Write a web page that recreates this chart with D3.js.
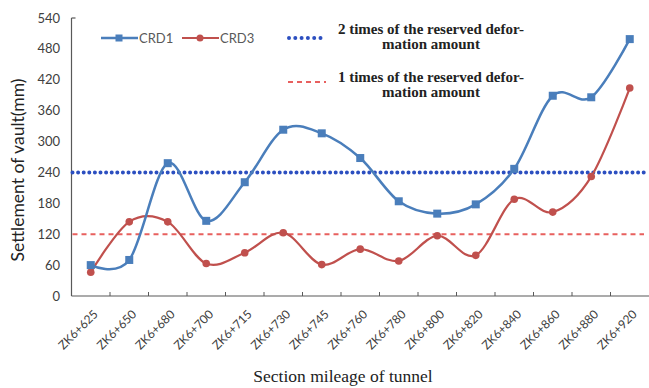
<!DOCTYPE html>
<html><head><meta charset="utf-8">
<script src="https://cdn.jsdelivr.net/npm/d3@7"></script>
<style>body{margin:0;background:#fff}svg{display:block}</style>
</head><body>
<svg id="c" width="649" height="388"></svg>
<script>
const categories = ["ZK6+625","ZK6+650","ZK6+680","ZK6+700","ZK6+715","ZK6+730","ZK6+745","ZK6+760","ZK6+780","ZK6+800","ZK6+820","ZK6+840","ZK6+860","ZK6+880","ZK6+920"];
const crd1 = [60,70,258,146,221,323,316,268,184,160,178,247,389,386,499];
const crd3 = [46,144,144,63,84,123,61,91,68,117,79,188,163,232,404];
const twoTimes = 240;
const oneTimes = 120;
const yTicks = [0,60,120,180,240,300,360,420,480,540];

const svg = d3.select("#c");
const L = 71.5, R = 649, T = 18, B = 296;
const x = d3.scaleBand().domain(categories).range([L, R]).padding(0);
const y = d3.scaleLinear().domain([0,540]).range([B, T]);
const cx = d => x(d) + x.bandwidth()/2;

const sans = "Lato, 'Open Sans', sans-serif";
const serif = "'Liberation Serif', 'DejaVu Serif', serif";

// axes
svg.append("line").attr("x1",L).attr("x2",L).attr("y1",T).attr("y2",B).attr("stroke","#595959").attr("stroke-width",1.2);
svg.append("line").attr("x1",L).attr("x2",R).attr("y1",B).attr("y2",B).attr("stroke","#595959").attr("stroke-width",1.2);
svg.append("line").attr("x1",L).attr("x2",L+4).attr("y1",y(540)).attr("y2",y(540)).attr("stroke","#595959").attr("stroke-width",1.2);

// x ticks (between categories, inward)
categories.slice(1).forEach(c => {
  svg.append("line").attr("x1",x(c)).attr("x2",x(c)).attr("y1",B).attr("y2",B-4).attr("stroke","#595959").attr("stroke-width",1);
});

// y tick labels
svg.selectAll(".yt").data(yTicks).enter().append("text")
  .attr("x", 60).attr("y", d => y(d)).attr("dy","0.35em")
  .attr("text-anchor","end").attr("font-family",sans).attr("font-size",13).attr("fill","#404040")
  .text(d => d);

// x tick labels
svg.selectAll(".xt").data(categories).enter().append("text")
  .attr("transform", d => `translate(${cx(d)+5},${B+16}) rotate(-45)`)
  .attr("text-anchor","end").attr("dy","0.35em")
  .attr("font-family",sans).attr("font-size",12).attr("fill","#404040")
  .text(d => d);

// reference lines
svg.append("line").attr("x1",L+1).attr("x2",R-5).attr("y1",y(twoTimes)).attr("y2",y(twoTimes))
  .attr("stroke","#2c4fc0").attr("stroke-width",4).attr("stroke-linecap","round").attr("stroke-dasharray","0,5.6");
svg.append("line").attr("x1",L+1).attr("x2",R-5).attr("y1",y(oneTimes)).attr("y2",y(oneTimes))
  .attr("stroke","#e8605e").attr("stroke-width",2).attr("stroke-dasharray","5,4");

const line = d3.line().x((d,i)=>cx(categories[i])).y(d=>y(d)).curve(d3.curveCardinal.tension(0));

// CRD3
svg.append("path").attr("d", line(crd3)).attr("fill","none").attr("stroke","#c0504d").attr("stroke-width",2.2);
svg.selectAll(".m3").data(crd3).enter().append("circle")
  .attr("cx",(d,i)=>cx(categories[i])).attr("cy",d=>y(d)).attr("r",3.8).attr("fill","#c0504d");
// CRD1
svg.append("path").attr("d", line(crd1)).attr("fill","none").attr("stroke","#4a7ebb").attr("stroke-width",2.5);
svg.selectAll(".m1").data(crd1).enter().append("rect")
  .attr("x",(d,i)=>cx(categories[i])-4).attr("y",d=>y(d)-4).attr("width",8).attr("height",8).attr("fill","#4a7ebb");

// legend
const lg = svg.append("g");
lg.append("line").attr("x1",101).attr("x2",138).attr("y1",38).attr("y2",38).attr("stroke","#4a7ebb").attr("stroke-width",2.5);
lg.append("rect").attr("x",115.5).attr("y",34.5).attr("width",7).attr("height",7).attr("fill","#4a7ebb");
lg.append("text").attr("x",139).attr("y",38).attr("dy","0.35em").attr("font-family",sans).attr("font-size",13).attr("fill","#595959").text("CRD1");
lg.append("line").attr("x1",182).attr("x2",219).attr("y1",38).attr("y2",38).attr("stroke","#c0504d").attr("stroke-width",2.2);
lg.append("circle").attr("cx",200).attr("cy",38).attr("r",3.5).attr("fill","#c0504d");
lg.append("text").attr("x",220).attr("y",38).attr("dy","0.35em").attr("font-family",sans).attr("font-size",13).attr("fill","#595959").text("CRD3");

lg.append("line").attr("x1",289).attr("x2",326).attr("y1",38).attr("y2",38)
  .attr("stroke","#2c4fc0").attr("stroke-width",4).attr("stroke-linecap","round").attr("stroke-dasharray","0,6.3");
lg.append("line").attr("x1",288).attr("x2",326).attr("y1",82).attr("y2",82)
  .attr("stroke","#e8605e").attr("stroke-width",2).attr("stroke-dasharray","5,4");

const legTxt = [["2 times of the reserved defor-",34],["mation amount",49],["1 times of the reserved defor-",82],["mation amount",97]];
legTxt.forEach(([t,yy]) => {
  lg.append("text").attr("x",431).attr("y",yy).attr("text-anchor","middle")
    .attr("font-family",serif).attr("font-size",15).attr("font-weight","bold").attr("fill","#222").text(t);
});

// axis titles
svg.append("text").attr("transform",`translate(24,170) rotate(-90)`).attr("text-anchor","middle")
  .attr("font-family",sans).attr("font-size",17.5).attr("fill","#222").text("Settlement of vault(mm)");
svg.append("text").attr("x",343).attr("y",382).attr("text-anchor","middle")
  .attr("font-family",serif).attr("font-size",17.5).attr("fill","#222").text("Section mileage of tunnel");
</script>
</body></html>
